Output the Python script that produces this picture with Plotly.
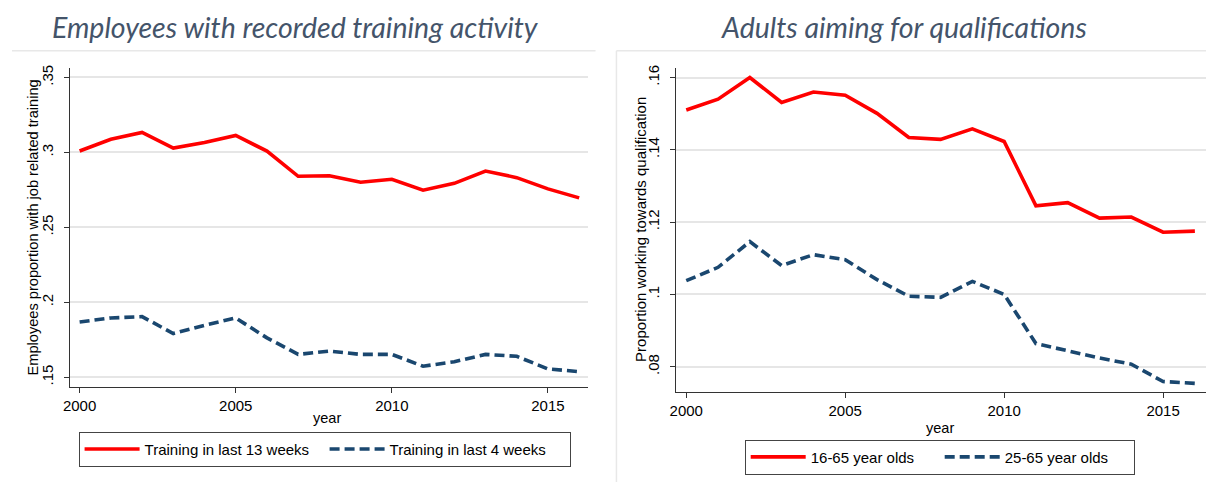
import plotly.graph_objects as go

years = list(range(2000, 2017))

train_13wk = [0.3010, 0.3088, 0.3133, 0.3029, 0.3066, 0.3113, 0.3009, 0.2841, 0.2845,
              0.2801, 0.2821, 0.2748, 0.2794, 0.2876, 0.2832, 0.2757, 0.2697]
train_4wk = [0.1869, 0.1896, 0.1905, 0.1792, 0.1847, 0.1896, 0.1763, 0.1653, 0.1675,
             0.1653, 0.1653, 0.1574, 0.1604, 0.1653, 0.1640, 0.1556, 0.1538]

qual_16_65 = [0.1510, 0.1540, 0.1600, 0.1531, 0.1560, 0.1551, 0.1501, 0.1434, 0.1429,
              0.1458, 0.1423, 0.1245, 0.1254, 0.1211, 0.1214, 0.1172, 0.1175]
qual_25_65 = [0.1038, 0.1075, 0.1146, 0.1080, 0.1110, 0.1096, 0.1041, 0.0995, 0.0992,
              0.1036, 0.1000, 0.0864, 0.0844, 0.0824, 0.0807, 0.0759, 0.0754]

left_yticks = [0.15, 0.2, 0.25, 0.3, 0.35]
left_yticktext = [".15", ".2", ".25", ".3", ".35"]
right_yticks = [0.08, 0.10, 0.12, 0.14, 0.16]
right_yticktext = [".08", ".1", ".12", ".14", ".16"]
xticks = [2000, 2005, 2010, 2015]

RED = "#FF0000"
NAVY = "#1A476F"
W, H = 1206, 484
FONT = "Liberation Sans, Arial, sans-serif"
LW = 3.6

fig = go.Figure()
fig.add_trace(go.Scatter(x=years, y=train_13wk, mode="lines", name="Training in last 13 weeks",
                         line=dict(color=RED, width=LW), xaxis="x", yaxis="y", legend="legend"))
fig.add_trace(go.Scatter(x=years, y=train_4wk, mode="lines", name="Training in last 4 weeks",
                         line=dict(color=NAVY, width=LW, dash="10px,5px"), xaxis="x", yaxis="y",
                         legend="legend"))
fig.add_trace(go.Scatter(x=years, y=qual_16_65, mode="lines", name="16-65 year olds",
                         line=dict(color=RED, width=LW), xaxis="x2", yaxis="y2", legend="legend2"))
fig.add_trace(go.Scatter(x=years, y=qual_25_65, mode="lines", name="25-65 year olds",
                         line=dict(color=NAVY, width=LW, dash="10px,5px"), xaxis="x2", yaxis="y2",
                         legend="legend2"))

def px_x(p):
    return p / W

def px_y(p):
    return (H - p) / H

axis_common = dict(showline=True, linecolor="#333333", linewidth=1, ticks="outside",
                   ticklen=5, tickcolor="#333333", tickfont=dict(family=FONT, size=15, color="#000"),
                   zeroline=False)

fig.update_layout(
    width=W, height=H, margin=dict(l=0, r=0, t=0, b=0),
    paper_bgcolor="white", plot_bgcolor="white", showlegend=True,
    xaxis=dict(domain=[px_x(63), px_x(584)], range=[1999.68, 2016.27], tickvals=xticks,
               showgrid=False, anchor="y", **axis_common),
    yaxis=dict(domain=[px_y(386), px_y(65)], range=[0.1438, 0.3566], tickvals=left_yticks,
               ticktext=left_yticktext, tickangle=-90, showgrid=True, gridcolor="#E6E6E6",
               gridwidth=1.5, anchor="x", ticklabelstandoff=5, **axis_common),
    xaxis2=dict(domain=[px_x(673), 1.0], range=[1999.68, 2016.35], tickvals=xticks,
                showgrid=False, anchor="y2", **axis_common),
    yaxis2=dict(domain=[px_y(391.7), px_y(65)], range=[0.07293, 0.16275], tickvals=right_yticks,
                ticktext=right_yticktext, tickangle=-90, showgrid=True, gridcolor="#E6E6E6",
                gridwidth=1.5, anchor="x2", ticklabelstandoff=5, **axis_common),
    legend=dict(orientation="h", x=px_x(72), xanchor="left", y=px_y(449), yanchor="middle",
                bordercolor="#444444", borderwidth=1, bgcolor="white",
                font=dict(family=FONT, size=15, color="#000"), entrywidth=175, itemwidth=55),
    legend2=dict(orientation="h", x=px_x(742), xanchor="left", y=px_y(457), yanchor="middle",
                 bordercolor="#444444", borderwidth=1, bgcolor="white",
                 font=dict(family=FONT, size=15, color="#000"), entrywidth=124, itemwidth=55),
)

annots = [
    dict(text="<i>Employees with recorded training activity</i>", x=px_x(290), y=px_y(24),
         font=dict(family="Lato, Open Sans, sans-serif", size=28.5, color="#44546A")),
    dict(text="<i>Adults aiming for qualifications</i>", x=px_x(902), y=px_y(24),
         font=dict(family="Lato, Open Sans, sans-serif", size=28.5, color="#44546A")),
    dict(text="Employees proportion with job related training", x=px_x(26), y=px_y(226),
         textangle=-90, font=dict(family=FONT, size=14.6, color="#000")),
    dict(text="Proportion working towards qualification", x=px_x(637), y=px_y(228),
         textangle=-90, font=dict(family=FONT, size=15, color="#000")),
    dict(text="year", x=px_x(322), y=px_y(418), font=dict(family=FONT, size=14.5, color="#000")),
    dict(text="year", x=px_x(938), y=px_y(428), font=dict(family=FONT, size=14.5, color="#000")),
]
for a in annots:
    fig.add_annotation(xref="paper", yref="paper", showarrow=False, xanchor="center",
                       yanchor="middle", **a)

sep = "#E8E8E8"
fig.add_shape(type="line", xref="paper", yref="paper", x0=px_x(5), x1=px_x(592),
              y0=px_y(48), y1=px_y(48), line=dict(color=sep, width=1.5))
fig.add_shape(type="line", xref="paper", yref="paper", x0=px_x(613), x1=1.0,
              y0=px_y(48), y1=px_y(48), line=dict(color=sep, width=1.5))
fig.add_shape(type="line", xref="paper", yref="paper", x0=px_x(613), x1=px_x(613),
              y0=px_y(48), y1=px_y(482), line=dict(color=sep, width=1.5))

fig.write_html("out.html", config={"displayModeBar": False},
               post_script="document.body.style.margin='0';"
               "document.body.style.overflow='hidden';")
